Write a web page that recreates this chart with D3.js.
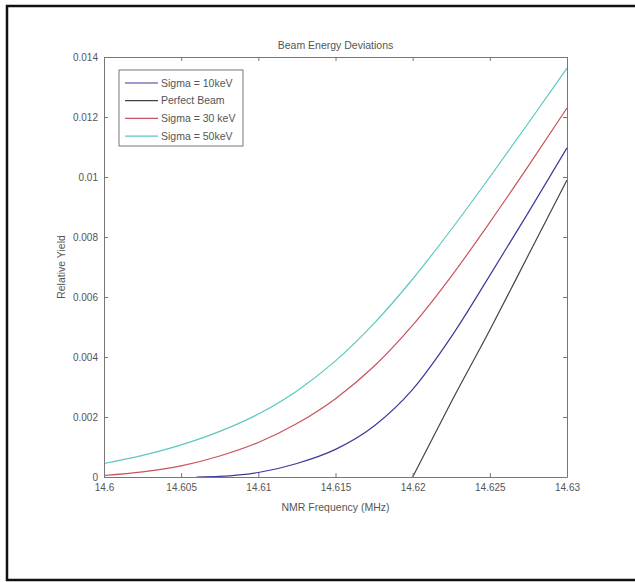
<!DOCTYPE html>
<html>
<head>
<meta charset="utf-8">
<script src="https://cdn.jsdelivr.net/npm/d3@7"></script>
<style>
  body { margin: 0; background: #fff; }
  text { font-family: "Liberation Sans", Arial, sans-serif; fill: #555; }
</style>
</head>
<body>
<div id="chart"></div>
<script>
// Data
const freq = [14.6, 14.6025, 14.605, 14.6075, 14.61, 14.6125, 14.615, 14.6175, 14.62, 14.6225, 14.625, 14.6275, 14.63];
const sigma50 = [0.00045, 0.00072, 0.00107, 0.00152, 0.0021, 0.00287, 0.00387, 0.00512, 0.0066, 0.00825, 0.01, 0.0118, 0.01363];
const sigma30 = [0.00005, 0.00017, 0.00037, 0.0007, 0.00115, 0.00178, 0.00261, 0.00369, 0.00506, 0.00669, 0.00849, 0.01037, 0.0123];
const freq10 = [14.606, 14.6075, 14.61, 14.6125, 14.615, 14.6175, 14.62, 14.6225, 14.625, 14.6275, 14.63];
const sigma10 = [0, 0.00002, 0.00015, 0.00045, 0.00092, 0.0017, 0.00292, 0.00467, 0.00672, 0.00882, 0.01097];
const freqPerfect = [14.62, 14.6225, 14.625, 14.6275, 14.63];
const perfect = [0, 0.0025, 0.0049, 0.0074, 0.0099];

const xTicks = [14.6, 14.605, 14.61, 14.615, 14.62, 14.625, 14.63];
const xTickLabels = ["14.6", "14.605", "14.61", "14.615", "14.62", "14.625", "14.63"];
const yTicks = [0, 0.002, 0.004, 0.006, 0.008, 0.01, 0.012, 0.014];
const yTickLabels = ["0", "0.002", "0.004", "0.006", "0.008", "0.01", "0.012", "0.014"];

const series = [
  { name: "Sigma = 10keV", x: freq10, y: sigma10, color: "#3a3a9a" },
  { name: "Perfect Beam", x: freqPerfect, y: perfect, color: "#444" },
  { name: "Sigma = 30 keV", x: freq, y: sigma30, color: "#c8545c" },
  { name: "Sigma = 50keV", x: freq, y: sigma50, color: "#5cc8c0" },
];

const W = 635, H = 582;
const margin = { top: 57, right: 68, bottom: 105, left: 104 };
const width = W - margin.left - margin.right;
const height = H - margin.top - margin.bottom;

const svg = d3.select("#chart").append("svg")
  .attr("width", W)
  .attr("height", H);

// outer frame (right edge runs off the picture)
svg.append("path")
  .attr("d", `M${W + 5},6 L7,6 L7,580 L${W + 5},580`)
  .attr("fill", "none")
  .attr("stroke", "#111")
  .attr("stroke-width", 2.5);

const g = svg.append("g")
  .attr("transform", `translate(${margin.left},${margin.top})`);

const xScale = d3.scaleLinear().domain([14.6, 14.63]).range([0, width]);
const yScale = d3.scaleLinear().domain([0, 0.014]).range([height, 0]);

// curves
const line = d3.line()
  .x((d) => xScale(d[0]))
  .y((d) => yScale(d[1]))
  .curve(d3.curveMonotoneX);

series.forEach((s) => {
  g.append("path")
    .datum(s.x.map((v, i) => [v, s.y[i]]))
    .attr("fill", "none")
    .attr("stroke", s.color)
    .attr("stroke-width", 1.2)
    .attr("d", line);
});

// axes with inward ticks on all four sides
const axisStyle = (sel) => {
  sel.select(".domain").attr("stroke", "#777");
  sel.selectAll(".tick line").attr("stroke", "#777");
  sel.selectAll("text").style("font-size", "10px").attr("fill", "#555");
};

g.append("g")
  .attr("transform", `translate(0,${height})`)
  .call(d3.axisBottom(xScale).tickValues(xTicks)
    .tickFormat((d, i) => xTickLabels[i]).tickSizeInner(-4).tickSizeOuter(0).tickPadding(7))
  .call(axisStyle);

g.append("g")
  .call(d3.axisTop(xScale).tickValues(xTicks)
    .tickFormat("").tickSizeInner(-4).tickSizeOuter(0))
  .call(axisStyle);

g.append("g")
  .call(d3.axisLeft(yScale).tickValues(yTicks)
    .tickFormat((d, i) => yTickLabels[i]).tickSizeInner(-4).tickSizeOuter(0).tickPadding(6))
  .call(axisStyle);

g.append("g")
  .attr("transform", `translate(${width},0)`)
  .call(d3.axisRight(yScale).tickValues(yTicks)
    .tickFormat("").tickSizeInner(-4).tickSizeOuter(0))
  .call(axisStyle);

// title and axis labels
g.append("text")
  .attr("x", width / 2)
  .attr("y", -8)
  .attr("text-anchor", "middle")
  .style("font-size", "10.5px")
  .text("Beam Energy Deviations");

g.append("text")
  .attr("x", width / 2)
  .attr("y", height + 34)
  .attr("text-anchor", "middle")
  .style("font-size", "10.5px")
  .text("NMR Frequency (MHz)");

g.append("text")
  .attr("transform", `translate(-39,${height / 2}) rotate(-90)`)
  .attr("text-anchor", "middle")
  .style("font-size", "10.5px")
  .text("Relative Yield");

// legend
const legend = g.append("g").attr("transform", "translate(15,13)");
legend.append("rect")
  .attr("width", 124)
  .attr("height", 76)
  .attr("fill", "#fff")
  .attr("stroke", "#777");

series.forEach((s, i) => {
  const row = legend.append("g").attr("transform", `translate(0,${13 + i * 17.7})`);
  row.append("line")
    .attr("x1", 6).attr("x2", 39)
    .attr("stroke", s.color)
    .attr("stroke-width", 1.2);
  row.append("text")
    .attr("x", 42)
    .attr("y", 3.5)
    .style("font-size", "10.5px")
    .text(s.name);
});
</script>
</body>
</html>
